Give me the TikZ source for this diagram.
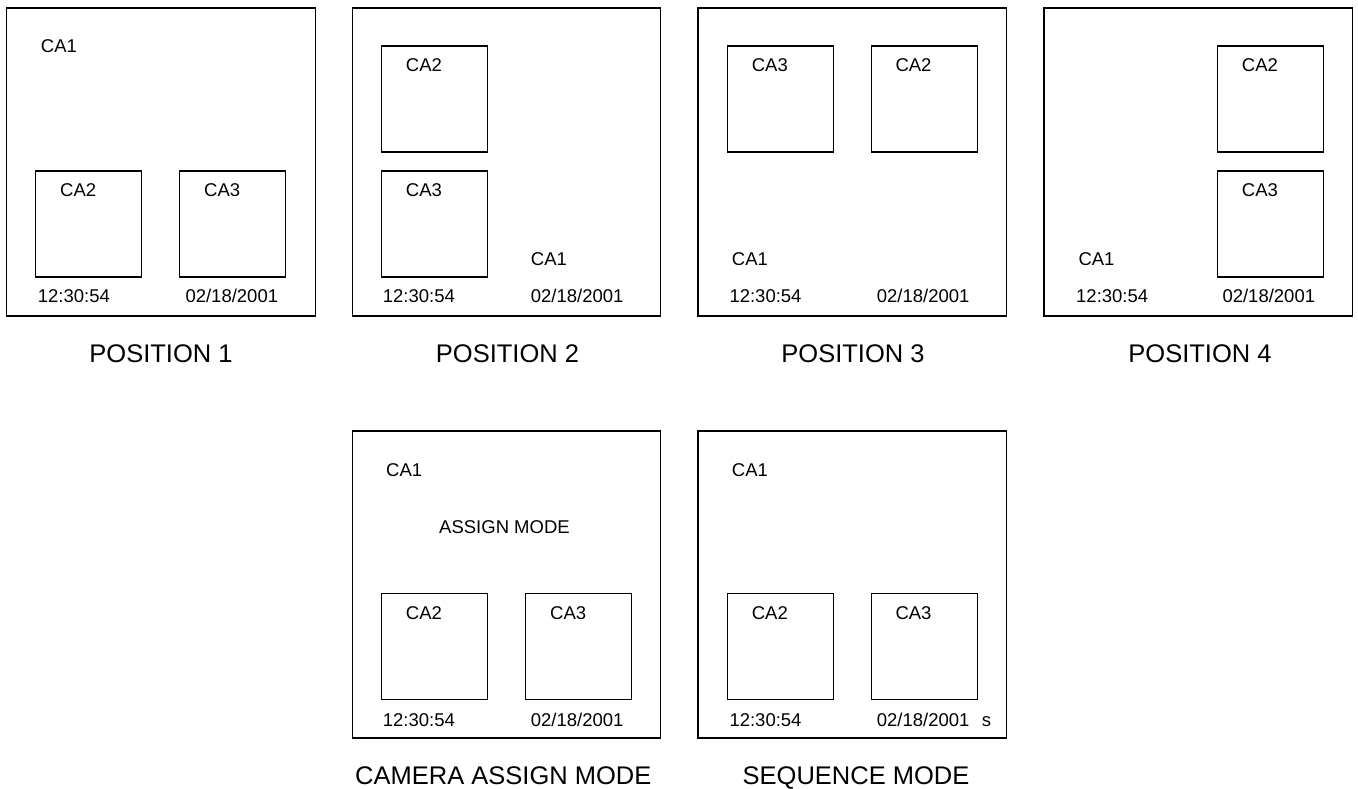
\documentclass[tikz,border=0pt]{standalone}
\usepackage{fontspec}
\setmainfont{Liberation Sans}
\begin{document}
\begin{tikzpicture}[x=1pt,y=-1pt,
  screen/.style={draw,line width=1.2pt,rectangle,minimum width=308.4pt,minimum height=308pt,inner sep=0pt},
  cam/.style={draw,line width=1.2pt,rectangle,minimum width=106pt,minimum height=106pt,inner sep=0pt},
  lbl/.style={anchor=base west,inner sep=0pt,font=\fontsize{18.5}{20}\selectfont},
  captxt/.style={anchor=base,inner sep=0pt,font=\fontsize{25.5}{28}\selectfont}]
\useasboundingbox (0,0) rectangle (1358,789);
% ---------- Position 1
\node[screen] (s1) at (161,162) {};
\node[cam] (s1a) at (88.7,224) {};
\node[cam] (s1b) at (232.7,224) {};
\node[lbl] (s1c1) at (40.7,52.7) {CA1};
\node[lbl] (s1c2) at (60,196.7) {CA2};
\node[lbl] (s1c3) at (204,196.7) {CA3};
\node[lbl] (s1t) at (37.7,302.7) {12:30:54};
\node[lbl] (s1d) at (185.3,302.7) {02/18/2001};
\node[captxt] (p1) at (161,362.5) {POSITION 1};
% ---------- Position 2
\node[screen] (s2) at (506.5,162) {};
\node[cam] (s2a) at (434.5,99) {};
\node[cam] (s2b) at (434.5,224) {};
\node[lbl] (s2c2) at (405.7,71.7) {CA2};
\node[lbl] (s2c3) at (405.7,196.7) {CA3};
\node[lbl] (s2c1) at (530.7,265) {CA1};
\node[lbl] (s2t) at (382.7,302.7) {12:30:54};
\node[lbl] (s2d) at (530.7,302.7) {02/18/2001};
\node[captxt] (p2) at (507.5,362.5) {POSITION 2};
% ---------- Position 3
\node[screen] (s3) at (852.2,162) {};
\node[cam] (s3a) at (780.3,99) {};
\node[cam] (s3b) at (924.3,99) {};
\node[lbl] (s3c3) at (751.6,71.7) {CA3};
\node[lbl] (s3c2) at (895.3,71.7) {CA2};
\node[lbl] (s3c1) at (731.7,265) {CA1};
\node[lbl] (s3t) at (729.3,302.7) {12:30:54};
\node[lbl] (s3d) at (876.7,302.7) {02/18/2001};
\node[captxt] (p3) at (853,362.5) {POSITION 3};
% ---------- Position 4
\node[screen] (s4) at (1198.2,162) {};
\node[cam] (s4a) at (1270.3,99) {};
\node[cam] (s4b) at (1270.3,224) {};
\node[lbl] (s4c2) at (1241.7,71.7) {CA2};
\node[lbl] (s4c3) at (1241.7,196.7) {CA3};
\node[lbl] (s4c1) at (1078.3,265) {CA1};
\node[lbl] (s4t) at (1076,302.7) {12:30:54};
\node[lbl] (s4d) at (1222.3,302.7) {02/18/2001};
\node[captxt] (p4) at (1200,362.5) {POSITION 4};
% ---------- Camera assign mode
\node[screen,minimum height=307pt] (s5) at (506.5,584.5) {};
\node[cam] (s5a) at (434.5,646.5) {};
\node[cam] (s5b) at (578.7,646.5) {};
\node[lbl] (s5c1) at (386,476) {CA1};
\node[lbl] (s5m) at (439,533.3) {ASSIGN MODE};
\node[lbl] (s5c2) at (405.7,619.4) {CA2};
\node[lbl] (s5c3) at (550,619.4) {CA3};
\node[lbl] (s5t) at (382.7,726) {12:30:54};
\node[lbl] (s5d) at (530.7,726) {02/18/2001};
\node[captxt] (p5) at (503.3,784.5) {CAMERA ASSIGN MODE};
% ---------- Sequence mode
\node[screen,minimum height=307pt] (s6) at (852.2,584.5) {};
\node[cam] (s6a) at (780.3,646.5) {};
\node[cam] (s6b) at (924.3,646.5) {};
\node[lbl] (s6c1) at (731.7,476) {CA1};
\node[lbl] (s6c2) at (751.6,619.4) {CA2};
\node[lbl] (s6c3) at (895.3,619.4) {CA3};
\node[lbl] (s6t) at (729.3,726) {12:30:54};
\node[lbl] (s6d) at (876.7,726) {02/18/2001};
\node[lbl] (s6s) at (981.7,726) {s};
\node[captxt] (p6) at (856,784.5) {SEQUENCE MODE};
\end{tikzpicture}
\end{document}
